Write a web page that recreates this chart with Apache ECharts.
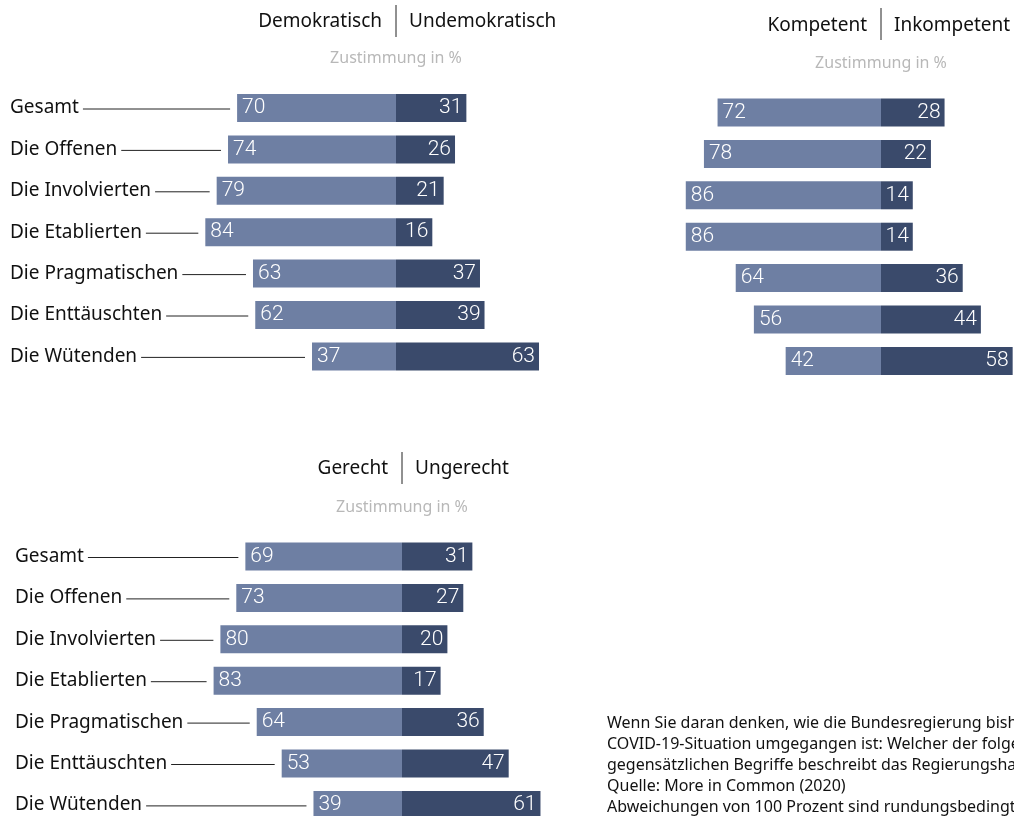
<!DOCTYPE html>
<html>
<head>
<meta charset="utf-8">
<script src="https://cdn.jsdelivr.net/npm/echarts@6/dist/echarts.min.js"></script>
<style>html,body{margin:0;padding:0;background:#fff;}#c{width:1014px;height:816px;}</style>
</head>
<body>
<div id="c"></div>
<script>
const categories = ['Gesamt','Die Offenen','Die Involvierten','Die Etablierten','Die Pragmatischen','Die Enttäuschten','Die Wütenden'];
const demokratisch   = [70,74,79,84,63,62,37];
const undemokratisch = [31,26,21,16,37,39,63];
const kompetent      = [72,78,86,86,64,56,42];
const inkompetent    = [28,22,14,14,36,44,58];
const gerecht        = [69,73,80,83,64,53,39];
const ungerecht      = [31,27,20,17,36,47,61];

const LIGHT = '#6e7fa3', DARK = '#3a4a6b';
const FONT = '"Noto Sans", sans-serif';
const NUMFONT = 'Roboto, sans-serif';
const PX = 2.27, XMIN = -90;
const ROW = 41.4;

const panels = [
  {center:396, first:108,   xmax:65, left:demokratisch, right:undemokratisch, hl:'Demokratisch', hr:'Undemokratisch', hy:22, sy:21, zy:58, labelX:10, cats:true},
  {center:881, first:112.5, xmax:58, left:kompetent,    right:inkompetent,    hl:'Kompetent',    hr:'Inkompetent',    hy:26, sy:24, zy:63, labelX:null, cats:false},
  {center:402, first:556.5, xmax:62, left:gerecht,      right:ungerecht,      hl:'Gerecht',      hr:'Ungerecht',      hy:469, sy:468, zy:507, labelX:15, cats:true}
];

const mctx = document.createElement('canvas').getContext('2d');
function textW(t, font){ mctx.font = font; return mctx.measureText(t).width; }

const grid=[], xAxis=[], yAxis=[], series=[], graphic=[];
panels.forEach((p,i)=>{
  grid.push({left:p.center + XMIN*PX, top:p.first, width:(p.xmax-XMIN)*PX, height:ROW*(categories.length-1)});
  xAxis.push({gridIndex:i, type:'value', min:XMIN, max:p.xmax, show:false});
  yAxis.push({gridIndex:i, type:'category', data:categories, inverse:true, boundaryGap:false, show:false});
  const lbl = {show:true, color:'#fff', fontSize:21, fontFamily:NUMFONT, fontWeight:300, distance:5};
  series.push({type:'bar', xAxisIndex:i, yAxisIndex:i, stack:'s'+i, barWidth:28, silent:true, clip:false,
    itemStyle:{color:LIGHT}, data:p.left.map(v=>-v),
    label:Object.assign({}, lbl, {position:'insideLeft', formatter:q=>Math.abs(q.value)})});
  series.push({type:'bar', xAxisIndex:i, yAxisIndex:i, stack:'s'+i, barWidth:28, silent:true, clip:false,
    itemStyle:{color:DARK}, data:p.right,
    label:Object.assign({}, lbl, {position:'insideRight', distance:4, formatter:q=>q.value})});
  if (p.cats) {
    const lx = p.labelX;
    series.push({type:'custom', xAxisIndex:i, yAxisIndex:i, silent:true, clip:false,
      data:categories.map((c,k)=>[k, p.left[k]]),
      renderItem:(params, api)=>{
        const k = api.value(0);
        const pt = api.coord([-api.value(1), k]);
        const name = categories[k];
        const w = textW(name, '19px ' + FONT);
        return {type:'group', children:[
          {type:'text', style:{text:name, x:lx, y:pt[1], fill:'#111', font:'19px ' + FONT, verticalAlign:'middle', textAlign:'left'}},
          {type:'line', shape:{x1:lx+w+4, y1:pt[1]+1, x2:pt[0]-7, y2:pt[1]+1}, style:{stroke:'#222', lineWidth:1}}
        ]};
      }});
  }
  graphic.push({type:'text', x:p.center-14, y:p.hy, style:{text:p.hl, fill:'#111', font:'19px '+FONT, textAlign:'right', textVerticalAlign:'middle'}});
  graphic.push({type:'text', x:p.center+13, y:p.hy, style:{text:p.hr, fill:'#111', font:'19px '+FONT, textAlign:'left', textVerticalAlign:'middle'}});
  graphic.push({type:'line', shape:{x1:p.center, y1:p.sy-16, x2:p.center, y2:p.sy+16}, style:{stroke:'#222', lineWidth:1}});
  graphic.push({type:'text', x:p.center, y:p.zy, style:{text:'Zustimmung in %', fill:'#b8b8b8', font:'16px '+FONT, textAlign:'center', textVerticalAlign:'middle'}});
});

graphic.push({type:'text', x:607, y:713, style:{
  text:'Wenn Sie daran denken, wie die Bundesregierung bisher mit der\nCOVID-19-Situation umgegangen ist: Welcher der folgenden\ngegensätzlichen Begriffe beschreibt das Regierungshandeln?\nQuelle: More in Common (2020)\nAbweichungen von 100 Prozent sind rundungsbedingt.',
  fill:'#111', font:'16px '+FONT, lineHeight:21, textAlign:'left', textVerticalAlign:'top'}});

const chart = echarts.init(document.getElementById('c'), null, {renderer:'canvas'});
chart.setOption({animation:false, grid, xAxis, yAxis, series, graphic});
</script>
</body>
</html>
